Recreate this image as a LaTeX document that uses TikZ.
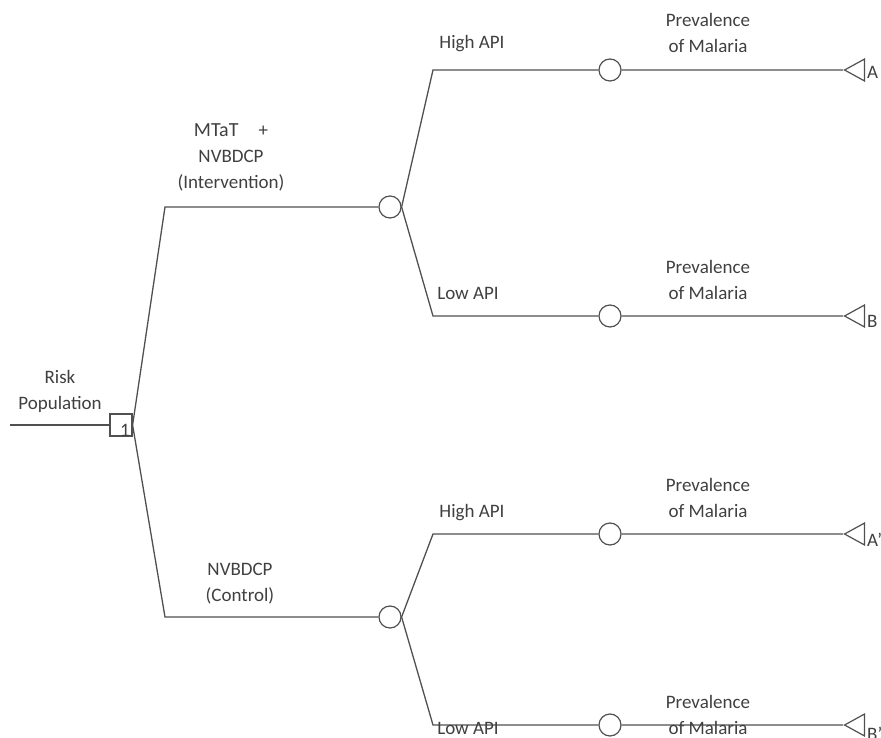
\documentclass[tikz,border=0pt]{standalone}
\usepackage{fontspec}
\setmainfont{Carlito}
\usetikzlibrary{shapes.geometric}
\definecolor{linegray}{HTML}{505050}
\definecolor{textgray}{HTML}{404040}
\begin{document}
\begin{tikzpicture}[x=1pt,y=-1pt]

    \tikzset{
      decision/.style={draw=linegray, line width=1.2pt, rectangle, minimum size=22pt, inner sep=0pt},
      chance/.style={draw=linegray, line width=1.2pt, circle, minimum size=22pt, inner sep=0pt},
      terminal/.style={
        draw=linegray,
        line width=1.2pt,
        isosceles triangle,
        isosceles triangle stretches,
        shape border rotate=180,
        minimum width=22pt,
        minimum height=20pt,
        inner sep=0pt,
        anchor=apex,
      },
      branch/.style={line width=1.3pt, color=linegray},
      txt/.style={text=textgray, align=center, inner sep=0pt, font=\fontsize{19}{26}\selectfont},
    }
    \useasboundingbox (0,0) rectangle (881,738);

	% decision node
	\coordinate (start) at (10,425);
	\node[decision] (d1) at (121,425) {};
	\node[txt,anchor = base east] (d1num) at (130,436) {1};
	\draw[branch] (start)--(d1);
	\node[txt,anchor = base] (risk) at (60,409) {Risk\\Population};

	% first level
	\coordinate (k1) at (165,207);
	\coordinate (k2) at (165,617);
	\node[chance] (c1) at (390,207) {};
	\node[chance] (c2) at (390,617) {};
	\draw[branch] (d1.east)--(k1)--(c1);
	\draw[branch] (d1.east)--(k2)--(c2);
	\node[txt,anchor = base] (interv) at (231,189) {{\fontsize{20}{26}\selectfont MTaT}\hspace{20pt}+\\NVBDCP\\(Intervention)};
	\node[txt,anchor = base] (control) at (240,601) {NVBDCP\\(Control)};

	% second level
	\coordinate (k11) at (433,70);
	\coordinate (k12) at (433,316);
	\coordinate (k21) at (433,534);
	\coordinate (k22) at (433,725);
	\node[chance] (c11) at (610,70) {};
	\node[chance] (c12) at (610,316) {};
	\node[chance] (c21) at (610,534) {};
	\node[chance] (c22) at (610,725) {};
	\node[terminal] (t11) at (843,70) {};
	\node[terminal] (t12) at (843,316) {};
	\node[terminal] (t21) at (843,534) {};
	\node[terminal] (t22) at (843,725) {};
	\draw[branch] (c1.east)--(k11)--(c11)--(t11);
	\draw[branch] (c1.east)--(k12)--(c12)--(t12);
	\draw[branch] (c2.east)--(k21)--(c21)--(t21);
	\draw[branch] (c2.east)--(k22)--(c22)--(t22);

	\node[txt,anchor = base] (hi1) at (472,49) {High API};
	\node[txt,anchor = base] (lo1) at (468,299) {Low API};
	\node[txt,anchor = base] (hi2) at (472,517) {High API};
	\node[txt,anchor = base] (lo2) at (468,734) {Low API};

	\node[txt,anchor = base] (prev11) at (708,53) {Prevalence\\of Malaria};
	\node[txt,anchor = base] (prev12) at (708,299) {Prevalence\\of Malaria};
	\node[txt,anchor = base] (prev21) at (708,517) {Prevalence\\of Malaria};
	\node[txt,anchor = base] (prev22) at (708,734) {Prevalence\\of Malaria};

	\node[txt,anchor = base west] (endA) at (867,79) {A};
	\node[txt,anchor = base west] (endB) at (867,327) {B};
	\node[txt,anchor = base west] (endA2) at (867,546) {A'};
	\node[txt,anchor = base west] (endB2) at (867,740) {B'};

\end{tikzpicture}
\end{document}
